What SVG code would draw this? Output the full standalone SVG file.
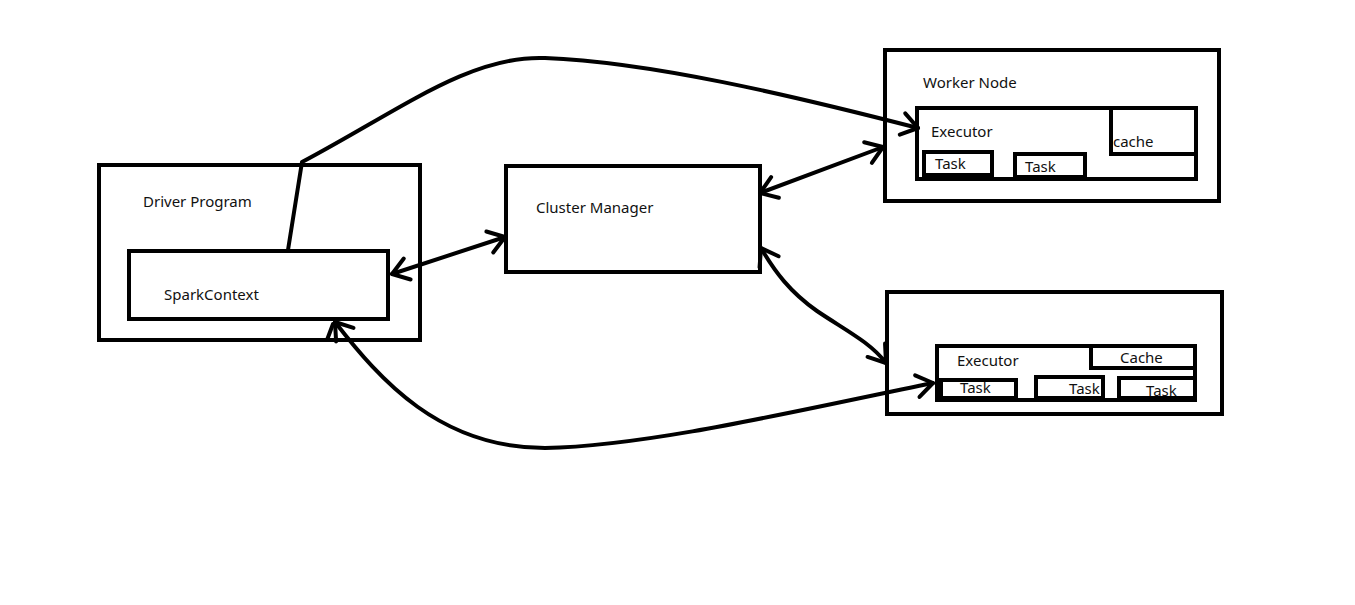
<svg xmlns="http://www.w3.org/2000/svg" width="1355" height="605" viewBox="0 0 1355 605">
<defs>
<style>
.box{fill:none;stroke:#000;stroke-width:4}
.fbox{fill:#fff;stroke:#000;stroke-width:4}
.lbl{font-family:"Noto Sans","Open Sans",sans-serif;font-size:15px;fill:#111}
.con{fill:none;stroke:#000;stroke-width:4;stroke-linecap:round;stroke-linejoin:round}
</style>
<marker id="ah" markerUnits="userSpaceOnUse" markerWidth="40" markerHeight="40" refX="0" refY="0" viewBox="-20 -20 40 40" orient="auto-start-reverse" overflow="visible">
<path d="M -16,-11 L 0,0 L -16,11" fill="none" stroke="#000" stroke-width="4" stroke-linecap="round" stroke-linejoin="round"/>
</marker>
</defs>
<rect width="1355" height="605" fill="#fff"/>

<g id="driver-program">
<rect class="box" x="99" y="165" width="321" height="175"/>
<text class="lbl" x="143" y="207">Driver Program</text>
</g>
<g id="spark-context">
<rect class="fbox" x="129" y="251" width="259" height="68"/>
<text class="lbl" x="164" y="300">SparkContext</text>
</g>
<g id="cluster-manager">
<rect class="box" x="506" y="166" width="254" height="106"/>
<text class="lbl" x="536" y="213">Cluster Manager</text>
</g>

<g id="worker-node-1">
<rect class="box" x="885" y="50" width="334" height="151"/>
<text class="lbl" x="923" y="88">Worker Node</text>
<g id="executor-1">
<rect class="box" x="917" y="108" width="279" height="71"/>
<text class="lbl" x="931" y="137">Executor</text>
<rect class="box" x="1111" y="108" width="85" height="46"/>
<text class="lbl" x="1113" y="147">cache</text>
<rect class="box" x="924" y="152" width="68" height="23"/>
<text class="lbl" x="935" y="169">Task</text>
<rect class="box" x="1015" y="154" width="70" height="23"/>
<text class="lbl" x="1025" y="172">Task</text>
</g>
</g>

<g id="worker-node-2">
<rect class="box" x="887" y="292" width="335" height="122"/>
<g id="executor-2">
<rect class="box" x="937" y="346" width="258" height="54"/>
<text class="lbl" x="957" y="366">Executor</text>
<rect class="box" x="1091" y="346" width="104" height="22"/>
<text class="lbl" x="1120" y="363">Cache</text>
<rect class="box" x="941" y="380" width="75" height="18"/>
<text class="lbl" x="960" y="393">Task</text>
<rect class="box" x="1036" y="377" width="67" height="21"/>
<text class="lbl" x="1069" y="394">Task</text>
<rect class="box" x="1119" y="378" width="76" height="20"/>
<text class="lbl" x="1146" y="396">Task</text>
</g>
</g>

<g id="connectors">
<path class="con" d="M 288,250 L 302,162 C 400,110 470,55 545,58 C 650,62 790,95 918,128" marker-end="url(#ah)"/>
<path class="con" d="M 392,274 L 505,237" marker-start="url(#ah)" marker-end="url(#ah)"/>
<path class="con" d="M 760,193 L 883,147" marker-start="url(#ah)" marker-end="url(#ah)"/>
<path class="con" d="M 761,248 C 775,272 790,292 817,311 C 845,330 870,342 886,363" marker-start="url(#ah)" marker-end="url(#ah)"/>
<path class="con" d="M 335,322 C 380,380 440,448 545,448 C 650,446 800,410 933,383" marker-start="url(#ah)" marker-end="url(#ah)"/>
<path class="con" d="M 327,340 L 333,324"/>
</g>
</svg>
